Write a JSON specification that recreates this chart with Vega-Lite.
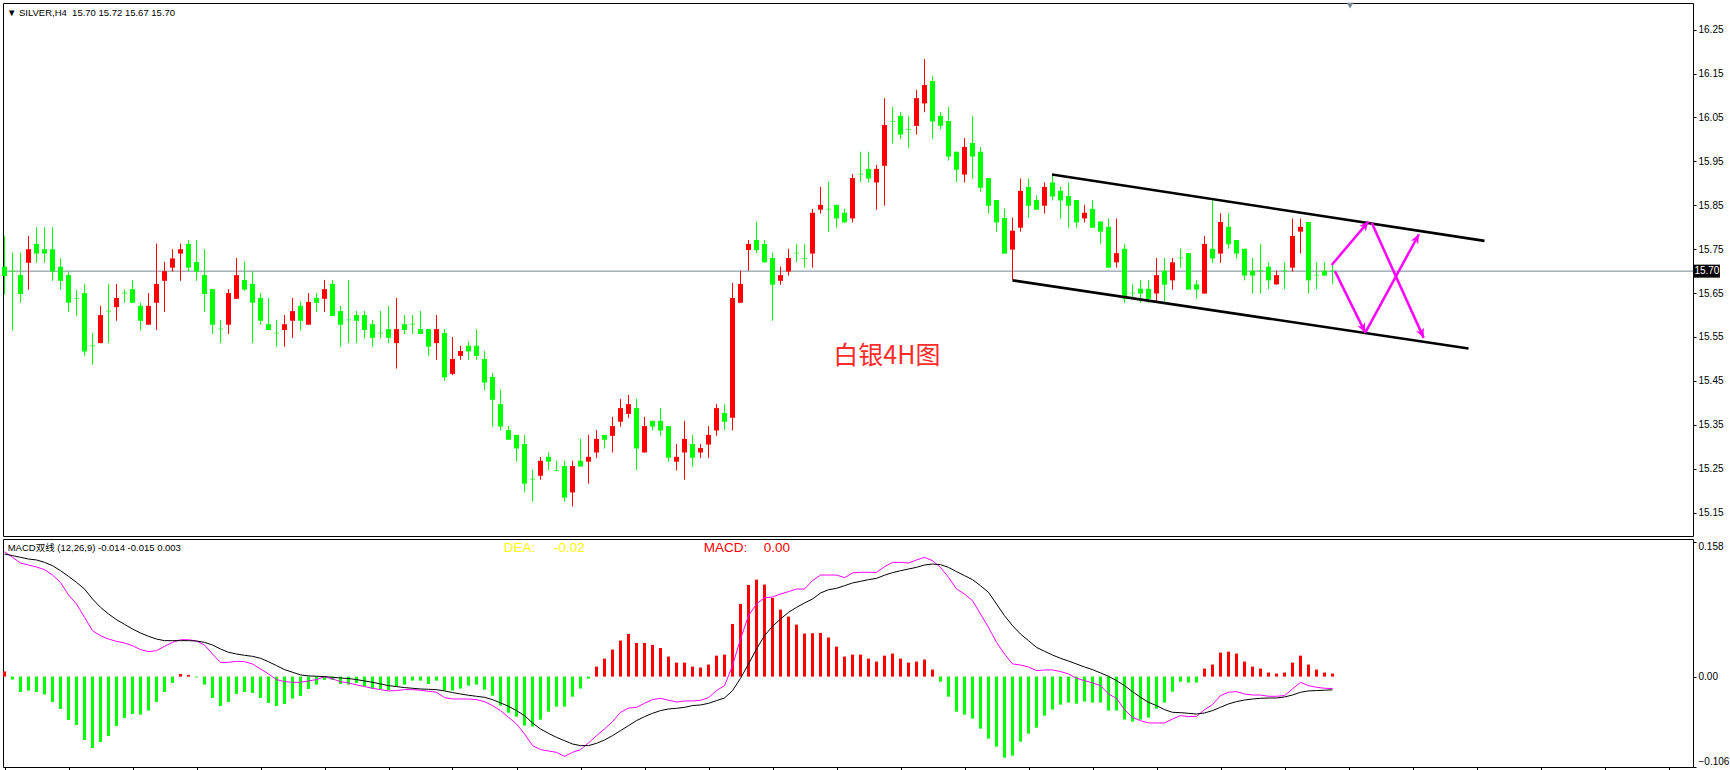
{
"$schema": "https://vega.github.io/schema/vega-lite/v6.json",
"background": "white",
"padding": {"left": 1, "top": 2, "right": 0, "bottom": 0},
"spacing": 3,
"bounds": "flush",
"config": {"view": {"stroke": "#000", "strokeWidth": 1}, "axis": {"grid": false, "labelFont": "Liberation Sans", "labelFontSize": 10, "labelColor": "#000", "tickColor": "#000", "title": null}},
"datasets": {"k": [
{"i":0,"o":15.710,"h":15.780,"l":15.647,"c":15.689,"hist":0.006,"dif":0.1466,"dea":0.1439},
{"i":1,"o":15.700,"h":15.742,"l":15.566,"c":15.700,"hist":-0.0035,"dif":0.140,"dea":0.142},
{"i":2,"o":15.691,"h":15.742,"l":15.628,"c":15.648,"hist":-0.018,"dif":0.1333,"dea":0.140},
{"i":3,"o":15.719,"h":15.780,"l":15.658,"c":15.750,"hist":-0.0164,"dif":0.131,"dea":0.138},
{"i":4,"o":15.762,"h":15.800,"l":15.719,"c":15.740,"hist":-0.018,"dif":0.1286,"dea":0.1369},
{"i":5,"o":15.750,"h":15.800,"l":15.719,"c":15.740,"hist":-0.021,"dif":0.1255,"dea":0.1341},
{"i":6,"o":15.750,"h":15.800,"l":15.678,"c":15.699,"hist":-0.0297,"dif":0.1192,"dea":0.1302},
{"i":7,"o":15.710,"h":15.729,"l":15.658,"c":15.678,"hist":-0.038,"dif":0.1106,"dea":0.1243},
{"i":8,"o":15.691,"h":15.700,"l":15.607,"c":15.628,"hist":-0.0509,"dif":0.0958,"dea":0.1177},
{"i":9,"o":15.638,"h":15.658,"l":15.598,"c":15.638,"hist":-0.0567,"dif":0.0852,"dea":0.1106},
{"i":10,"o":15.650,"h":15.671,"l":15.507,"c":15.517,"hist":-0.0743,"dif":0.0696,"dea":0.1028},
{"i":11,"o":15.530,"h":15.559,"l":15.487,"c":15.530,"hist":-0.0837,"dif":0.0539,"dea":0.0911},
{"i":12,"o":15.536,"h":15.621,"l":15.536,"c":15.600,"hist":-0.0767,"dif":0.048,"dea":0.0813},
{"i":13,"o":15.609,"h":15.671,"l":15.536,"c":15.609,"hist":-0.0696,"dif":0.0441,"dea":0.0735},
{"i":14,"o":15.618,"h":15.671,"l":15.587,"c":15.639,"hist":-0.0579,"dif":0.0414,"dea":0.0668},
{"i":15,"o":15.650,"h":15.658,"l":15.628,"c":15.650,"hist":-0.0485,"dif":0.0394,"dea":0.0613},
{"i":16,"o":15.659,"h":15.680,"l":15.628,"c":15.628,"hist":-0.0438,"dif":0.0363,"dea":0.0559},
{"i":17,"o":15.621,"h":15.628,"l":15.566,"c":15.587,"hist":-0.0446,"dif":0.0316,"dea":0.0512},
{"i":18,"o":15.578,"h":15.650,"l":15.578,"c":15.621,"hist":-0.0399,"dif":0.0293,"dea":0.0473},
{"i":19,"o":15.628,"h":15.763,"l":15.566,"c":15.671,"hist":-0.0297,"dif":0.0304,"dea":0.0441},
{"i":20,"o":15.678,"h":15.721,"l":15.607,"c":15.700,"hist":-0.018,"dif":0.0355,"dea":0.0422},
{"i":21,"o":15.708,"h":15.750,"l":15.699,"c":15.729,"hist":-0.0074,"dif":0.0402,"dea":0.0422},
{"i":22,"o":15.740,"h":15.763,"l":15.678,"c":15.750,"hist":0.003,"dif":0.0433,"dea":0.0422},
{"i":23,"o":15.762,"h":15.771,"l":15.699,"c":15.708,"hist":0.002,"dif":0.0433,"dea":0.0422},
{"i":24,"o":15.721,"h":15.771,"l":15.678,"c":15.699,"hist":-0.001,"dif":0.0418,"dea":0.0418},
{"i":25,"o":15.691,"h":15.750,"l":15.607,"c":15.648,"hist":-0.0094,"dif":0.0371,"dea":0.0402},
{"i":26,"o":15.659,"h":15.659,"l":15.557,"c":15.578,"hist":-0.025,"dif":0.0265,"dea":0.0371},
{"i":27,"o":15.568,"h":15.589,"l":15.536,"c":15.568,"hist":-0.0344,"dif":0.0167,"dea":0.0324},
{"i":28,"o":15.578,"h":15.659,"l":15.557,"c":15.650,"hist":-0.0297,"dif":0.0167,"dea":0.0285},
{"i":29,"o":15.637,"h":15.730,"l":15.637,"c":15.691,"hist":-0.0203,"dif":0.0179,"dea":0.0265},
{"i":30,"o":15.680,"h":15.721,"l":15.655,"c":15.658,"hist":-0.018,"dif":0.0175,"dea":0.025},
{"i":31,"o":15.671,"h":15.700,"l":15.536,"c":15.628,"hist":-0.0192,"dif":0.0148,"dea":0.0238},
{"i":32,"o":15.639,"h":15.650,"l":15.578,"c":15.587,"hist":-0.025,"dif":0.009,"dea":0.0215},
{"i":33,"o":15.579,"h":15.639,"l":15.566,"c":15.566,"hist":-0.0309,"dif":0.0031,"dea":0.0175},
{"i":34,"o":15.559,"h":15.589,"l":15.528,"c":15.559,"hist":-0.0344,"dif":-0.0035,"dea":0.0129},
{"i":35,"o":15.566,"h":15.600,"l":15.528,"c":15.579,"hist":-0.0321,"dif":-0.0059,"dea":0.0082},
{"i":36,"o":15.587,"h":15.639,"l":15.548,"c":15.609,"hist":-0.0258,"dif":-0.0067,"dea":0.0051},
{"i":37,"o":15.621,"h":15.630,"l":15.566,"c":15.587,"hist":-0.0227,"dif":-0.0067,"dea":0.002},
{"i":38,"o":15.578,"h":15.650,"l":15.578,"c":15.630,"hist":-0.0145,"dif":-0.0051,"dea":0.0008},
{"i":39,"o":15.639,"h":15.650,"l":15.607,"c":15.628,"hist":-0.0094,"dif":-0.0035,"dea":0.0004},
{"i":40,"o":15.637,"h":15.680,"l":15.607,"c":15.659,"hist":-0.0039,"dif":0.0,"dea":0.0},
{"i":41,"o":15.671,"h":15.680,"l":15.598,"c":15.598,"hist":-0.0039,"dif":-0.0027,"dea":-0.0008},
{"i":42,"o":15.609,"h":15.621,"l":15.528,"c":15.578,"hist":-0.0086,"dif":-0.0059,"dea":-0.0016},
{"i":43,"o":15.589,"h":15.680,"l":15.536,"c":15.589,"hist":-0.0094,"dif":-0.0074,"dea":-0.0023},
{"i":44,"o":15.600,"h":15.609,"l":15.536,"c":15.587,"hist":-0.0074,"dif":-0.0098,"dea":-0.0035},
{"i":45,"o":15.600,"h":15.609,"l":15.548,"c":15.566,"hist":-0.0117,"dif":-0.0117,"dea":-0.0051},
{"i":46,"o":15.579,"h":15.589,"l":15.528,"c":15.548,"hist":-0.0145,"dif":-0.0137,"dea":-0.0067},
{"i":47,"o":15.559,"h":15.609,"l":15.548,"c":15.559,"hist":-0.0145,"dif":-0.0153,"dea":-0.0086},
{"i":48,"o":15.568,"h":15.621,"l":15.536,"c":15.548,"hist":-0.0156,"dif":-0.0168,"dea":-0.0106},
{"i":49,"o":15.536,"h":15.639,"l":15.478,"c":15.568,"hist":-0.011,"dif":-0.0164,"dea":-0.0117},
{"i":50,"o":15.579,"h":15.600,"l":15.557,"c":15.566,"hist":-0.0094,"dif":-0.0153,"dea":-0.0129},
{"i":51,"o":15.579,"h":15.600,"l":15.557,"c":15.579,"hist":-0.0047,"dif":-0.0153,"dea":-0.0137},
{"i":52,"o":15.568,"h":15.609,"l":15.557,"c":15.557,"hist":-0.0047,"dif":-0.016,"dea":-0.0145},
{"i":53,"o":15.568,"h":15.568,"l":15.507,"c":15.528,"hist":-0.0086,"dif":-0.0172,"dea":-0.0149},
{"i":54,"o":15.536,"h":15.600,"l":15.498,"c":15.568,"hist":-0.0047,"dif":-0.0184,"dea":-0.0153},
{"i":55,"o":15.559,"h":15.568,"l":15.450,"c":15.458,"hist":-0.0164,"dif":-0.0247,"dea":-0.0168},
{"i":56,"o":15.466,"h":15.550,"l":15.463,"c":15.500,"hist":-0.0164,"dif":-0.0262,"dea":-0.0188},
{"i":57,"o":15.507,"h":15.530,"l":15.498,"c":15.518,"hist":-0.014,"dif":-0.0263,"dea":-0.0204},
{"i":58,"o":15.530,"h":15.539,"l":15.498,"c":15.517,"hist":-0.0106,"dif":-0.0263,"dea":-0.0219},
{"i":59,"o":15.530,"h":15.568,"l":15.498,"c":15.507,"hist":-0.0094,"dif":-0.027,"dea":-0.0231},
{"i":60,"o":15.500,"h":15.518,"l":15.428,"c":15.446,"hist":-0.0153,"dif":-0.0294,"dea":-0.0243},
{"i":61,"o":15.459,"h":15.468,"l":15.346,"c":15.407,"hist":-0.0223,"dif":-0.034,"dea":-0.027},
{"i":62,"o":15.397,"h":15.429,"l":15.337,"c":15.346,"hist":-0.034,"dif":-0.0399,"dea":-0.0309},
{"i":63,"o":15.338,"h":15.347,"l":15.316,"c":15.316,"hist":-0.0423,"dif":-0.0478,"dea":-0.0348},
{"i":64,"o":15.327,"h":15.327,"l":15.266,"c":15.296,"hist":-0.047,"dif":-0.0556,"dea":-0.0399},
{"i":65,"o":15.306,"h":15.327,"l":15.196,"c":15.216,"hist":-0.0575,"dif":-0.0673,"dea":-0.0458},
{"i":66,"o":15.226,"h":15.247,"l":15.175,"c":15.226,"hist":-0.0587,"dif":-0.081,"dea":-0.0544},
{"i":67,"o":15.234,"h":15.277,"l":15.225,"c":15.268,"hist":-0.0505,"dif":-0.0857,"dea":-0.0615},
{"i":68,"o":15.277,"h":15.287,"l":15.246,"c":15.266,"hist":-0.0411,"dif":-0.0873,"dea":-0.0666},
{"i":69,"o":15.246,"h":15.268,"l":15.244,"c":15.246,"hist":-0.0352,"dif":-0.0889,"dea":-0.0713},
{"i":70,"o":15.256,"h":15.268,"l":15.175,"c":15.184,"hist":-0.0352,"dif":-0.0936,"dea":-0.0752},
{"i":71,"o":15.196,"h":15.268,"l":15.164,"c":15.256,"hist":-0.0235,"dif":-0.0889,"dea":-0.0791},
{"i":72,"o":15.268,"h":15.318,"l":15.255,"c":15.255,"hist":-0.014,"dif":-0.0857,"dea":-0.081},
{"i":73,"o":15.266,"h":15.327,"l":15.216,"c":15.277,"hist":-0.0023,"dif":-0.0779,"dea":-0.081},
{"i":74,"o":15.287,"h":15.338,"l":15.275,"c":15.318,"hist":0.0117,"dif":-0.0693,"dea":-0.0783},
{"i":75,"o":15.327,"h":15.327,"l":15.296,"c":15.316,"hist":0.0211,"dif":-0.0615,"dea":-0.0744},
{"i":76,"o":15.325,"h":15.368,"l":15.287,"c":15.347,"hist":0.0317,"dif":-0.0529,"dea":-0.0693},
{"i":77,"o":15.357,"h":15.409,"l":15.346,"c":15.388,"hist":0.0423,"dif":-0.042,"dea":-0.0634},
{"i":78,"o":15.375,"h":15.418,"l":15.366,"c":15.397,"hist":0.0501,"dif":-0.0369,"dea":-0.0576},
{"i":79,"o":15.388,"h":15.409,"l":15.246,"c":15.296,"hist":0.0395,"dif":-0.0361,"dea":-0.0517},
{"i":80,"o":15.287,"h":15.368,"l":15.287,"c":15.347,"hist":0.0395,"dif":-0.0314,"dea":-0.047},
{"i":81,"o":15.359,"h":15.359,"l":15.337,"c":15.346,"hist":0.0372,"dif":-0.027,"dea":-0.0431},
{"i":82,"o":15.359,"h":15.388,"l":15.325,"c":15.337,"hist":0.0336,"dif":-0.0255,"dea":-0.0399},
{"i":83,"o":15.347,"h":15.347,"l":15.266,"c":15.275,"hist":0.0235,"dif":-0.0278,"dea":-0.038},
{"i":84,"o":15.266,"h":15.306,"l":15.246,"c":15.277,"hist":0.0164,"dif":-0.0298,"dea":-0.0372},
{"i":85,"o":15.287,"h":15.359,"l":15.225,"c":15.318,"hist":0.0164,"dif":-0.0286,"dea":-0.0361},
{"i":86,"o":15.306,"h":15.327,"l":15.255,"c":15.275,"hist":0.0117,"dif":-0.0286,"dea":-0.034},
{"i":87,"o":15.287,"h":15.306,"l":15.275,"c":15.297,"hist":0.0106,"dif":-0.0278,"dea":-0.0333},
{"i":88,"o":15.305,"h":15.347,"l":15.275,"c":15.327,"hist":0.0141,"dif":-0.0247,"dea":-0.0314},
{"i":89,"o":15.337,"h":15.397,"l":15.325,"c":15.388,"hist":0.0246,"dif":-0.0164,"dea":-0.0282},
{"i":90,"o":15.377,"h":15.397,"l":15.337,"c":15.357,"hist":0.0258,"dif":-0.0106,"dea":-0.0251},
{"i":91,"o":15.366,"h":15.673,"l":15.337,"c":15.639,"hist":0.0618,"dif":0.0129,"dea":-0.0165},
{"i":92,"o":15.628,"h":15.701,"l":15.628,"c":15.671,"hist":0.0853,"dif":0.0441,"dea":-0.002},
{"i":93,"o":15.748,"h":15.771,"l":15.701,"c":15.762,"hist":0.1076,"dif":0.0715,"dea":0.0148},
{"i":94,"o":15.771,"h":15.812,"l":15.741,"c":15.748,"hist":0.1138,"dif":0.0852,"dea":0.0324},
{"i":95,"o":15.762,"h":15.771,"l":15.720,"c":15.720,"hist":0.108,"dif":0.0926,"dea":0.0481},
{"i":96,"o":15.730,"h":15.742,"l":15.587,"c":15.669,"hist":0.0923,"dif":0.0934,"dea":0.059},
{"i":97,"o":15.678,"h":15.710,"l":15.669,"c":15.691,"hist":0.0786,"dif":0.0969,"dea":0.0676},
{"i":98,"o":15.699,"h":15.751,"l":15.690,"c":15.730,"hist":0.0704,"dif":0.0997,"dea":0.0754},
{"i":99,"o":15.741,"h":15.762,"l":15.720,"c":15.741,"hist":0.061,"dif":0.1028,"dea":0.0813},
{"i":100,"o":15.729,"h":15.762,"l":15.708,"c":15.729,"hist":0.0505,"dif":0.1028,"dea":0.0864},
{"i":101,"o":15.740,"h":15.842,"l":15.708,"c":15.833,"hist":0.0509,"dif":0.1126,"dea":0.0911},
{"i":102,"o":15.840,"h":15.892,"l":15.831,"c":15.851,"hist":0.0513,"dif":0.1192,"dea":0.0981},
{"i":103,"o":15.841,"h":15.903,"l":15.789,"c":15.841,"hist":0.0458,"dif":0.1192,"dea":0.102},
{"i":104,"o":15.851,"h":15.851,"l":15.799,"c":15.820,"hist":0.0352,"dif":0.1192,"dea":0.1036},
{"i":105,"o":15.833,"h":15.842,"l":15.811,"c":15.811,"hist":0.0235,"dif":0.1161,"dea":0.1067},
{"i":106,"o":15.820,"h":15.921,"l":15.811,"c":15.912,"hist":0.0258,"dif":0.1216,"dea":0.1099},
{"i":107,"o":15.921,"h":15.972,"l":15.902,"c":15.921,"hist":0.0258,"dif":0.1224,"dea":0.1118},
{"i":108,"o":15.933,"h":15.972,"l":15.902,"c":15.911,"hist":0.0211,"dif":0.1224,"dea":0.1138},
{"i":109,"o":15.902,"h":15.942,"l":15.840,"c":15.933,"hist":0.0176,"dif":0.1224,"dea":0.1153},
{"i":110,"o":15.940,"h":16.094,"l":15.849,"c":16.033,"hist":0.0246,"dif":0.129,"dea":0.119},
{"i":111,"o":16.041,"h":16.074,"l":15.991,"c":16.041,"hist":0.027,"dif":0.1341,"dea":0.122},
{"i":112,"o":16.054,"h":16.063,"l":16.001,"c":16.011,"hist":0.0211,"dif":0.1341,"dea":0.1243},
{"i":113,"o":16.023,"h":16.054,"l":15.981,"c":16.023,"hist":0.0164,"dif":0.1333,"dea":0.1263},
{"i":114,"o":16.031,"h":16.113,"l":16.011,"c":16.094,"hist":0.0176,"dif":0.1369,"dea":0.1282},
{"i":115,"o":16.082,"h":16.183,"l":16.062,"c":16.124,"hist":0.02,"dif":0.14,"dea":0.131},
{"i":116,"o":16.133,"h":16.145,"l":16.002,"c":16.041,"hist":0.0082,"dif":0.1361,"dea":0.1321},
{"i":117,"o":16.054,"h":16.063,"l":16.023,"c":16.031,"hist":-0.0059,"dif":0.1282,"dea":0.1314},
{"i":118,"o":16.042,"h":16.074,"l":15.952,"c":15.961,"hist":-0.0235,"dif":0.1165,"dea":0.1282},
{"i":119,"o":15.972,"h":15.972,"l":15.902,"c":15.931,"hist":-0.0411,"dif":0.1028,"dea":0.1232},
{"i":120,"o":15.920,"h":16.003,"l":15.902,"c":15.983,"hist":-0.0446,"dif":0.0969,"dea":0.1185},
{"i":121,"o":15.992,"h":16.054,"l":15.911,"c":15.961,"hist":-0.0493,"dif":0.0891,"dea":0.1138},
{"i":122,"o":15.972,"h":15.983,"l":15.881,"c":15.890,"hist":-0.061,"dif":0.0735,"dea":0.1067},
{"i":123,"o":15.912,"h":15.912,"l":15.831,"c":15.849,"hist":-0.0728,"dif":0.0578,"dea":0.0989},
{"i":124,"o":15.862,"h":15.862,"l":15.790,"c":15.811,"hist":-0.0822,"dif":0.0402,"dea":0.0852},
{"i":125,"o":15.821,"h":15.842,"l":15.740,"c":15.740,"hist":-0.0951,"dif":0.0265,"dea":0.0715},
{"i":126,"o":15.749,"h":15.822,"l":15.679,"c":15.792,"hist":-0.0927,"dif":0.0149,"dea":0.0598},
{"i":127,"o":15.799,"h":15.911,"l":15.790,"c":15.883,"hist":-0.0763,"dif":0.0136,"dea":0.05},
{"i":128,"o":15.892,"h":15.911,"l":15.822,"c":15.849,"hist":-0.0669,"dif":0.0113,"dea":0.0422},
{"i":129,"o":15.862,"h":15.873,"l":15.840,"c":15.840,"hist":-0.0599,"dif":0.007,"dea":0.0343},
{"i":130,"o":15.849,"h":15.902,"l":15.831,"c":15.892,"hist":-0.0458,"dif":0.0078,"dea":0.0297},
{"i":131,"o":15.902,"h":15.921,"l":15.861,"c":15.870,"hist":-0.0387,"dif":0.0078,"dea":0.0253},
{"i":132,"o":15.883,"h":15.892,"l":15.820,"c":15.861,"hist":-0.0329,"dif":0.0059,"dea":0.0215},
{"i":133,"o":15.871,"h":15.902,"l":15.799,"c":15.849,"hist":-0.0305,"dif":0.0031,"dea":0.0183},
{"i":134,"o":15.862,"h":15.862,"l":15.799,"c":15.811,"hist":-0.0317,"dif":-0.002,"dea":0.0148},
{"i":135,"o":15.820,"h":15.851,"l":15.811,"c":15.833,"hist":-0.0293,"dif":-0.0047,"dea":0.0113},
{"i":136,"o":15.842,"h":15.862,"l":15.799,"c":15.799,"hist":-0.0305,"dif":-0.0074,"dea":0.0082},
{"i":137,"o":15.813,"h":15.813,"l":15.761,"c":15.790,"hist":-0.0305,"dif":-0.0106,"dea":0.0043},
{"i":138,"o":15.801,"h":15.820,"l":15.708,"c":15.708,"hist":-0.0399,"dif":-0.0204,"dea":0.0004},
{"i":139,"o":15.720,"h":15.820,"l":15.708,"c":15.741,"hist":-0.0399,"dif":-0.0255,"dea":-0.0047},
{"i":140,"o":15.751,"h":15.762,"l":15.628,"c":15.637,"hist":-0.0505,"dif":-0.0388,"dea":-0.0106},
{"i":141,"o":15.650,"h":15.670,"l":15.637,"c":15.650,"hist":-0.0528,"dif":-0.0478,"dea":-0.0176},
{"i":142,"o":15.660,"h":15.680,"l":15.628,"c":15.649,"hist":-0.0505,"dif":-0.0517,"dea":-0.0243},
{"i":143,"o":15.660,"h":15.680,"l":15.628,"c":15.637,"hist":-0.0481,"dif":-0.0544,"dea":-0.0302},
{"i":144,"o":15.649,"h":15.730,"l":15.628,"c":15.691,"hist":-0.0376,"dif":-0.0544,"dea":-0.034},
{"i":145,"o":15.701,"h":15.730,"l":15.628,"c":15.669,"hist":-0.0305,"dif":-0.0544,"dea":-0.0388},
{"i":146,"o":15.679,"h":15.730,"l":15.658,"c":15.720,"hist":-0.0176,"dif":-0.0498,"dea":-0.0419},
{"i":147,"o":15.730,"h":15.751,"l":15.708,"c":15.730,"hist":-0.0059,"dif":-0.0458,"dea":-0.0423},
{"i":148,"o":15.741,"h":15.741,"l":15.658,"c":15.658,"hist":-0.007,"dif":-0.047,"dea":-0.0431},
{"i":149,"o":15.670,"h":15.679,"l":15.638,"c":15.658,"hist":-0.007,"dif":-0.0466,"dea":-0.0439},
{"i":150,"o":15.649,"h":15.780,"l":15.649,"c":15.762,"hist":0.0094,"dif":-0.0388,"dea":-0.0427},
{"i":151,"o":15.751,"h":15.862,"l":15.719,"c":15.729,"hist":0.0141,"dif":-0.0329,"dea":-0.0399},
{"i":152,"o":15.740,"h":15.832,"l":15.719,"c":15.812,"hist":0.0282,"dif":-0.0223,"dea":-0.036},
{"i":153,"o":15.801,"h":15.832,"l":15.751,"c":15.761,"hist":0.0293,"dif":-0.0184,"dea":-0.0321},
{"i":154,"o":15.771,"h":15.771,"l":15.729,"c":15.740,"hist":0.027,"dif":-0.0176,"dea":-0.0294},
{"i":155,"o":15.751,"h":15.751,"l":15.679,"c":15.690,"hist":0.0176,"dif":-0.0204,"dea":-0.0275},
{"i":156,"o":15.701,"h":15.730,"l":15.649,"c":15.690,"hist":0.0117,"dif":-0.0216,"dea":-0.0263},
{"i":157,"o":15.701,"h":15.762,"l":15.649,"c":15.701,"hist":0.0094,"dif":-0.0216,"dea":-0.0255},
{"i":158,"o":15.710,"h":15.720,"l":15.659,"c":15.679,"hist":0.0047,"dif":-0.0231,"dea":-0.0251},
{"i":159,"o":15.670,"h":15.701,"l":15.669,"c":15.691,"hist":0.0035,"dif":-0.0231,"dea":-0.0251},
{"i":160,"o":15.701,"h":15.720,"l":15.659,"c":15.701,"hist":0.0047,"dif":-0.0223,"dea":-0.0239},
{"i":161,"o":15.708,"h":15.820,"l":15.699,"c":15.780,"hist":0.0164,"dif":-0.0145,"dea":-0.0216},
{"i":162,"o":15.790,"h":15.820,"l":15.740,"c":15.801,"hist":0.0246,"dif":-0.0067,"dea":-0.0184},
{"i":163,"o":15.812,"h":15.812,"l":15.649,"c":15.679,"hist":0.0141,"dif":-0.0106,"dea":-0.0168},
{"i":164,"o":15.691,"h":15.720,"l":15.659,"c":15.691,"hist":0.0082,"dif":-0.0125,"dea":-0.0164},
{"i":165,"o":15.701,"h":15.720,"l":15.689,"c":15.690,"hist":0.0047,"dif":-0.0137,"dea":-0.016},
{"i":166,"o":15.700,"h":15.720,"l":15.670,"c":15.700,"hist":0.0035,"dif":-0.014,"dea":-0.0155}
]},
"vconcat": [
{
"width": 1690, "height": 533,
"layer": [
{"data": {"values": [{"p": 15.70}]}, "mark": {"type": "rule", "color": "#778899", "strokeWidth": 1},
 "encoding": {"y": {"field": "p", "type": "quantitative", "scale": {"domain": [15.0967, 16.3108], "nice": false, "zero": false},
   "axis": {"orient": "right", "values": [15.15,15.25,15.35,15.45,15.55,15.65,15.75,15.85,15.95,16.05,16.15,16.25], "format": ".2f", "tickSize": 3, "labelPadding": 2, "domain": false, "labelFontSize": 10}}}},
{"data": {"name": "k"}, "mark": {"type": "rule", "strokeWidth": 1},
 "encoding": {"x": {"field": "i", "type": "quantitative", "scale": {"domain": [-0.1875, 211.0625], "nice": false, "zero": false}, "axis": null},
   "y": {"field": "l", "type": "quantitative"}, "y2": {"field": "h"},
   "color": {"condition": {"test": "datum.c > datum.o", "value": "#FF0000"}, "value": "#00FF00"}}},
{"data": {"name": "k"}, "mark": {"type": "rule", "strokeWidth": 5, "strokeCap": "butt"},
 "encoding": {"x": {"field": "i", "type": "quantitative"},
   "y": {"field": "o", "type": "quantitative"}, "y2": {"field": "c"},
   "color": {"condition": {"test": "datum.c > datum.o", "value": "#FF0000"}, "value": "#00FF00"}}},
{"data": {"name": "k"}, "transform": [{"filter": "datum.o == datum.c"}], "mark": {"type": "tick", "orient": "horizontal", "size": 5, "thickness": 1, "color": "#00FF00"},
 "encoding": {"x": {"field": "i", "type": "quantitative"}, "y": {"field": "o", "type": "quantitative"}}},
{"data": {"values": [{"ln": "up", "i": 130.94, "p": 15.920}, {"ln": "up", "i": 185.0, "p": 15.769}, {"ln": "lo", "i": 126.0, "p": 15.679}, {"ln": "lo", "i": 183.0, "p": 15.524}]},
 "mark": {"type": "line", "color": "#000", "strokeWidth": 2.6},
 "encoding": {"x": {"field": "i", "type": "quantitative"}, "y": {"field": "p", "type": "quantitative"}, "detail": {"field": "ln"}}},
{"data": {"values": [{"a": "A", "i": 165.9, "p": 15.714}, {"a": "A", "i": 170.5, "p": 15.813}, {"a": "B", "i": 166.3, "p": 15.700}, {"a": "B", "i": 170.1, "p": 15.560}, {"a": "C", "i": 170.1, "p": 15.560}, {"a": "C", "i": 176.8, "p": 15.784}, {"a": "D", "i": 170.9, "p": 15.810}, {"a": "D", "i": 177.4, "p": 15.548}]},
 "mark": {"type": "line", "color": "#FF00FF", "strokeWidth": 2.5},
 "encoding": {"x": {"field": "i", "type": "quantitative"}, "y": {"field": "p", "type": "quantitative"}, "detail": {"field": "a"}}},
{"data": {"values": [{"i": 170.5, "p": 15.813}]}, "mark": {"type": "point", "filled": true, "color": "#FF00FF", "opacity": 1, "size": 110, "shape": "M0,0L0.8,1.8L0,1.3L-0.8,1.8Z", "angle": 40},
 "encoding": {"x": {"field": "i", "type": "quantitative"}, "y": {"field": "p", "type": "quantitative"}}},
{"data": {"values": [{"i": 170.1, "p": 15.560}]}, "mark": {"type": "point", "filled": true, "color": "#FF00FF", "opacity": 1, "size": 110, "shape": "M0,0L0.8,1.8L0,1.3L-0.8,1.8Z", "angle": 154},
 "encoding": {"x": {"field": "i", "type": "quantitative"}, "y": {"field": "p", "type": "quantitative"}}},
{"data": {"values": [{"i": 176.8, "p": 15.784}]}, "mark": {"type": "point", "filled": true, "color": "#FF00FF", "opacity": 1, "size": 110, "shape": "M0,0L0.8,1.8L0,1.3L-0.8,1.8Z", "angle": 28},
 "encoding": {"x": {"field": "i", "type": "quantitative"}, "y": {"field": "p", "type": "quantitative"}}},
{"data": {"values": [{"i": 177.4, "p": 15.548}]}, "mark": {"type": "point", "filled": true, "color": "#FF00FF", "opacity": 1, "size": 110, "shape": "M0,0L0.8,1.8L0,1.3L-0.8,1.8Z", "angle": 156},
 "encoding": {"x": {"field": "i", "type": "quantitative"}, "y": {"field": "p", "type": "quantitative"}}},
{"data": {"values": [{"i": 110.3, "p": 15.507, "t": "白银4H图"}]}, "mark": {"type": "text", "font": "Noto Sans CJK SC", "fontSize": 25, "color": "#FF2a2a", "align": "center", "baseline": "middle"},
 "encoding": {"x": {"field": "i", "type": "quantitative"}, "y": {"field": "p", "type": "quantitative"}, "text": {"field": "t"}}},
{"data": {"values": [{"i": 0.3, "p": 16.288, "t": "▼ SILVER,H4\u00a0 15.70 15.72 15.67 15.70"}]}, "mark": {"type": "text", "font": "Liberation Sans, DejaVu Sans", "fontSize": 9.5, "color": "#000", "align": "left", "baseline": "middle"},
 "encoding": {"x": {"field": "i", "type": "quantitative"}, "y": {"field": "p", "type": "quantitative"}, "text": {"field": "t"}}},
{"data": {"values": [{"i": 212.8, "p": 15.70}]}, "mark": {"type": "point", "filled": true, "color": "#000", "opacity": 1, "size": 676, "shape": "M-1,-0.5H1V0.5H-1Z", "clip": false},
 "encoding": {"x": {"field": "i", "type": "quantitative"}, "y": {"field": "p", "type": "quantitative"}}},
{"data": {"values": [{"i": 212.8, "p": 15.70, "t": "15.70"}]}, "mark": {"type": "text", "font": "Liberation Sans", "fontSize": 10, "color": "#fff", "align": "center", "baseline": "middle"},
 "encoding": {"x": {"field": "i", "type": "quantitative"}, "y": {"field": "p", "type": "quantitative"}, "text": {"field": "t"}}},
{"data": {"values": [{"i": 168.2, "p": 16.305}]}, "mark": {"type": "point", "filled": true, "shape": "triangle-down", "color": "#7a8a9a", "opacity": 1, "size": 45},
 "encoding": {"x": {"field": "i", "type": "quantitative"}, "y": {"field": "p", "type": "quantitative"}}}
]
},
{
"width": 1690, "height": 228,
"layer": [
{"data": {"name": "k"}, "mark": {"type": "rule", "strokeWidth": 3, "strokeCap": "butt"},
 "encoding": {"x": {"field": "i", "type": "quantitative", "scale": {"domain": [-0.1875, 211.0625], "nice": false, "zero": false},
   "axis": {"orient": "bottom", "values": [0,8,16,24,32,40,48,56,64,72,80,88,96,104,112,120,128,136,144,152,160,168,176,184,192,200,208], "labels": false, "domain": false, "tickSize": 4}},
   "y": {"field": "hist", "type": "quantitative", "scale": {"domain": [-0.1061, 0.1615], "nice": false, "zero": false},
     "axis": {"orient": "right", "values": [0.158, 0, -0.106], "labelExpr": "datum.value == 0 ? '0.00' : format(datum.value, '.3f')", "tickSize": 3, "labelPadding": 2, "domain": false, "labelFontSize": 10,
       "labelBaseline": {"condition": [{"test": "datum.value > 0.1", "value": "top"}, {"test": "datum.value < -0.1", "value": "bottom"}], "value": "middle"}}},
   "y2": {"datum": 0},
   "color": {"condition": {"test": "datum.hist > 0", "value": "#FF0000"}, "value": "#00FF00"}}},
{"data": {"name": "k"}, "mark": {"type": "line", "color": "#FF00FF", "strokeWidth": 1},
 "encoding": {"x": {"field": "i", "type": "quantitative"}, "y": {"field": "dif", "type": "quantitative"}}},
{"data": {"name": "k"}, "mark": {"type": "line", "color": "#000", "strokeWidth": 1},
 "encoding": {"x": {"field": "i", "type": "quantitative"}, "y": {"field": "dea", "type": "quantitative"}}},
{"data": {"values": [{"i": 0.4, "v": 0.1515, "t": "MACD双线 (12,26,9) -0.014 -0.015 0.003"}]}, "mark": {"type": "text", "font": "Liberation Sans, Noto Sans CJK SC", "fontSize": 9.5, "color": "#000", "align": "left", "baseline": "middle"},
 "encoding": {"x": {"field": "i", "type": "quantitative"}, "y": {"field": "v", "type": "quantitative"}, "text": {"field": "t"}}},
{"data": {"values": [{"i": 62.4, "v": 0.1505, "t": "DEA:"}, {"i": 68.7, "v": 0.1505, "t": "-0.02"}]}, "mark": {"type": "text", "font": "Liberation Sans", "fontSize": 13.5, "color": "#FFFF00", "align": "left", "baseline": "middle"},
 "encoding": {"x": {"field": "i", "type": "quantitative"}, "y": {"field": "v", "type": "quantitative"}, "text": {"field": "t"}}},
{"data": {"values": [{"i": 87.4, "v": 0.1505, "t": "MACD:"}, {"i": 94.9, "v": 0.1505, "t": "0.00"}]}, "mark": {"type": "text", "font": "Liberation Sans", "fontSize": 13.5, "color": "#FF0000", "align": "left", "baseline": "middle"},
 "encoding": {"x": {"field": "i", "type": "quantitative"}, "y": {"field": "v", "type": "quantitative"}, "text": {"field": "t"}}}
]
}
]
}
